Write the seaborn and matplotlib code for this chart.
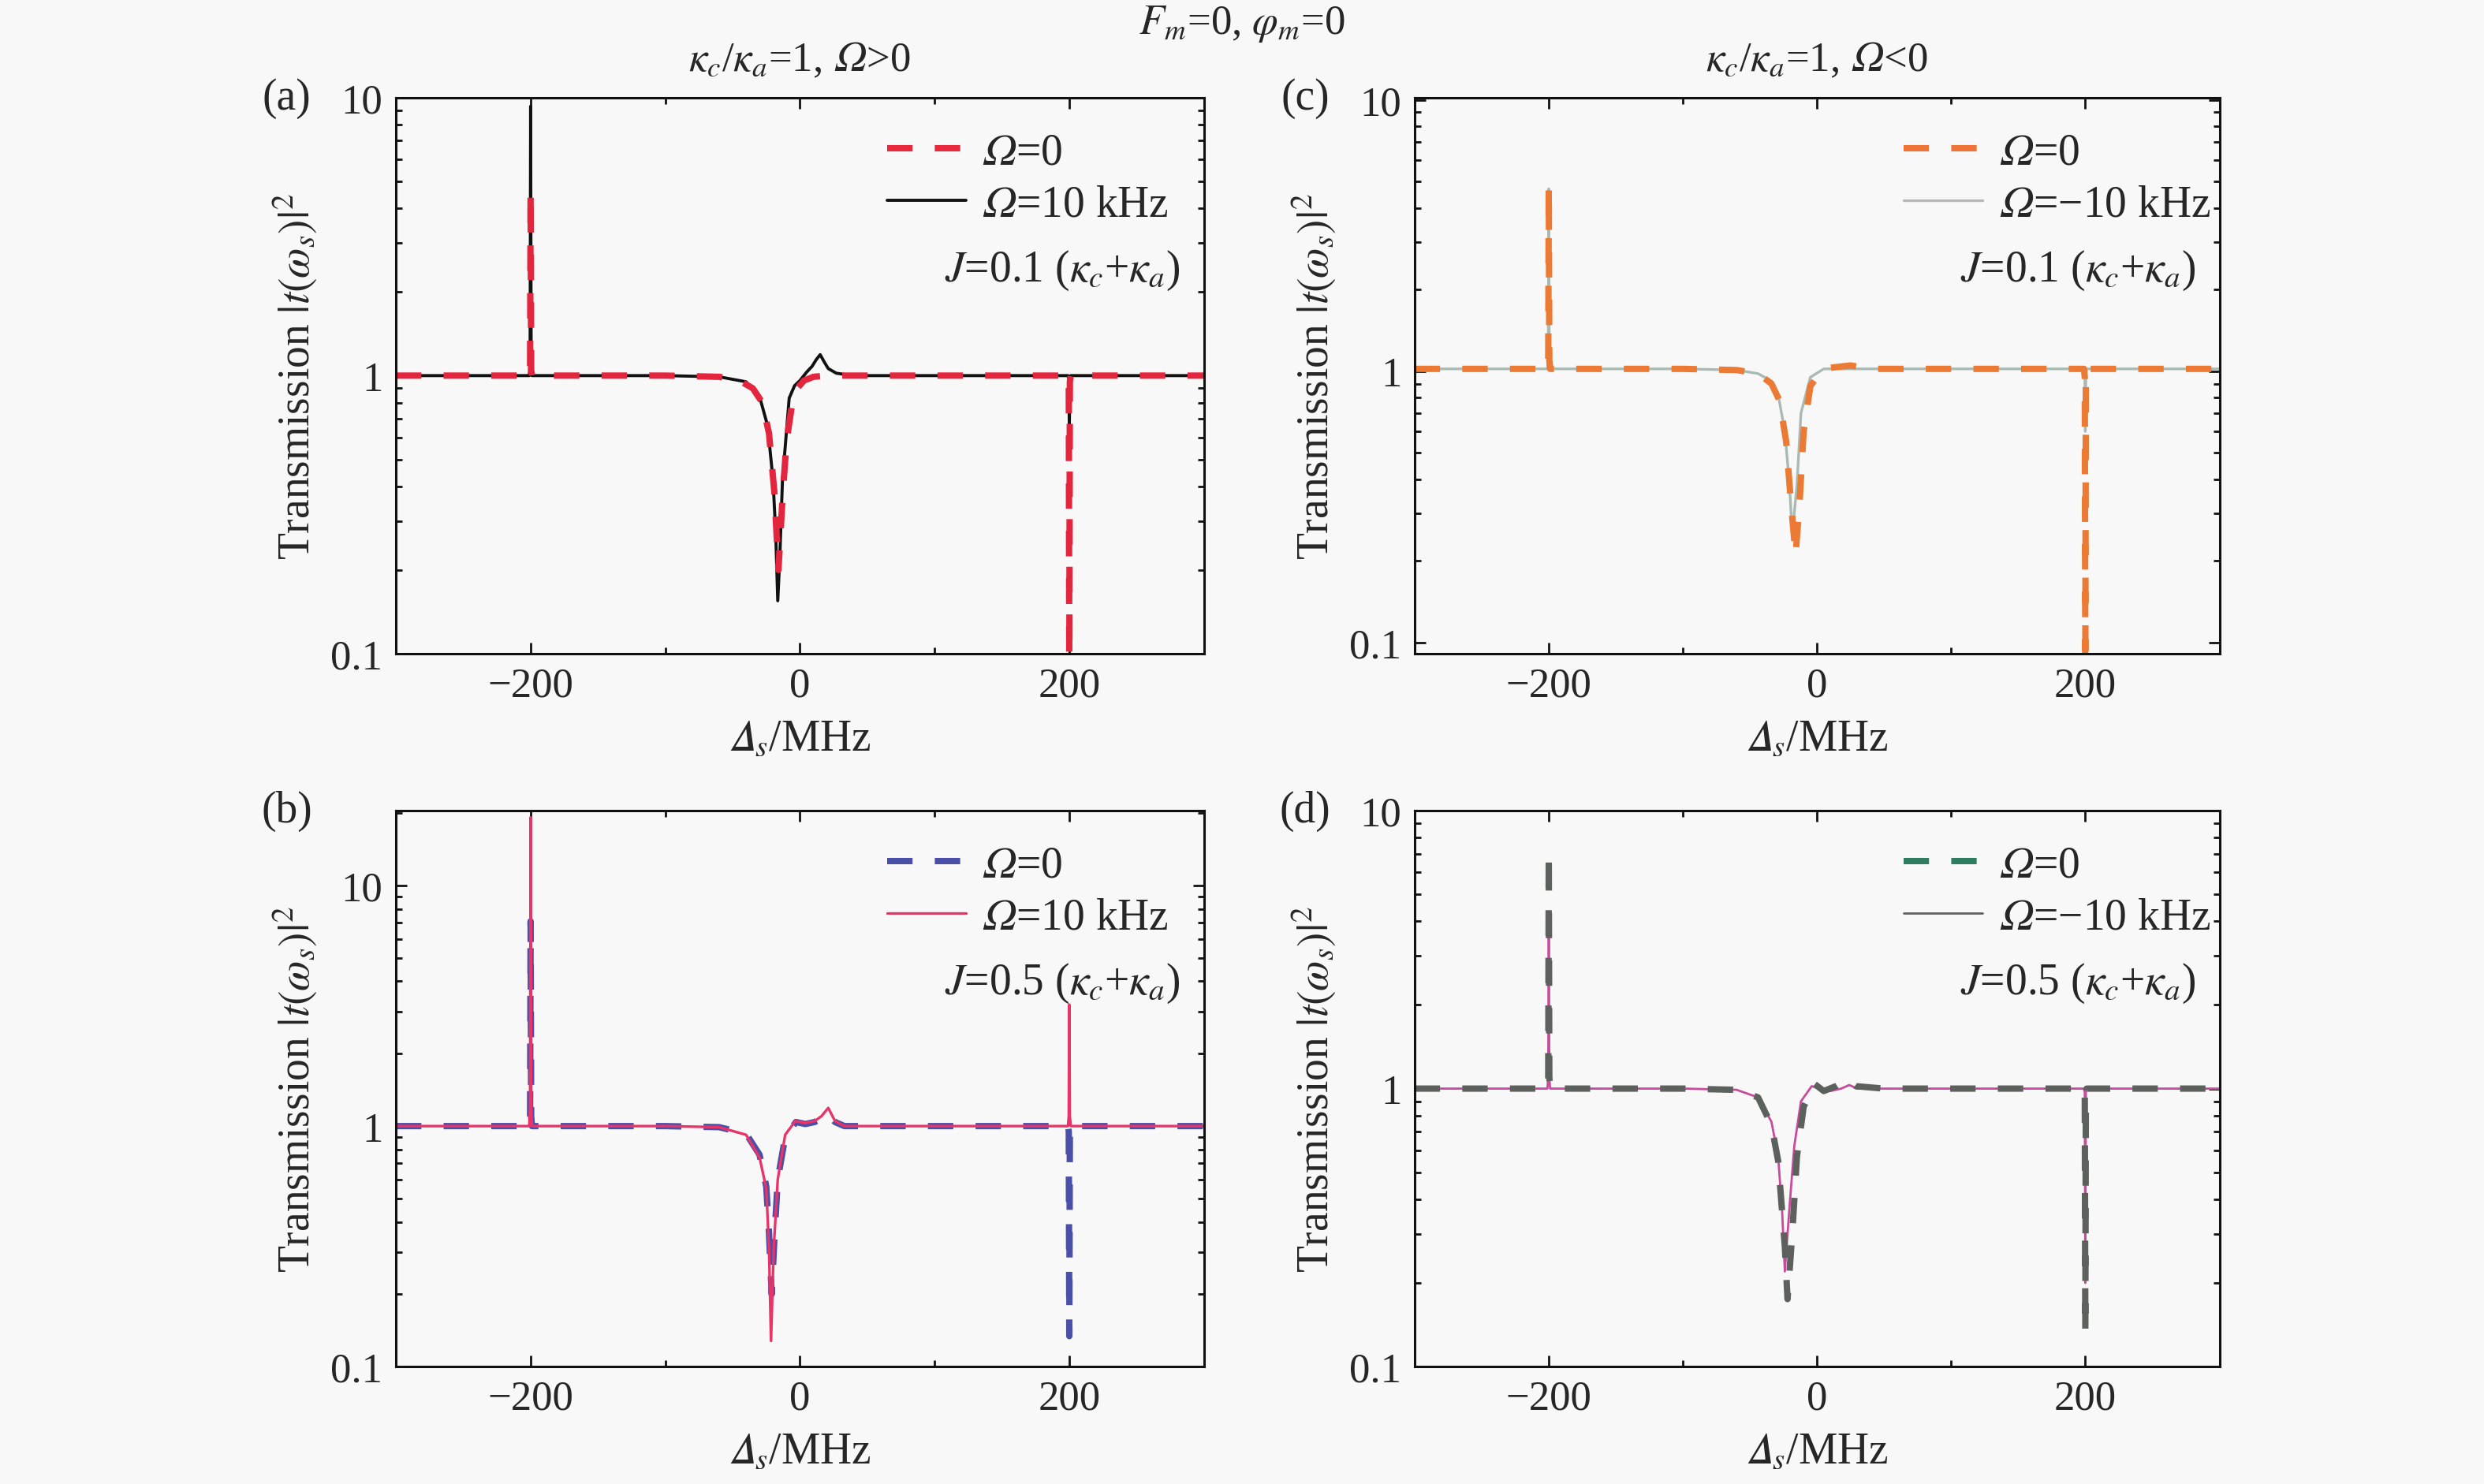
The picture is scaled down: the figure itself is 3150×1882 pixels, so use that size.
import numpy as np
import pandas as pd
import matplotlib
matplotlib.use("Agg")
import matplotlib.pyplot as plt
from matplotlib.lines import Line2D
from matplotlib.ticker import LogLocator, NullFormatter, MultipleLocator
import seaborn as sns

# ---- data (detuning in MHz, transmission) ----
# (a) J=0.1, Omega=0 (dashed) and Omega=10 kHz (solid)
a_x0 = [-300, -201, -200.4, -200, -199.6, -199, -100, -60, -45, -35, -28, -23, -19, -16, -13, -10, -6, -2, 3, 10, 20, 40, 100, 199, 199.6, 200, 200.4, 201, 300]
a_y0 = [1, 1, 1.05, 4.6, 1.05, 1, 1, 0.99, 0.96, 0.9, 0.8, 0.62, 0.38, 0.2, 0.36, 0.58, 0.78, 0.9, 0.96, 0.99, 1, 1, 1, 1, 0.95, 0.08, 0.95, 1, 1]
a_x1 = [-300, -201, -200.4, -200, -199.6, -199, -100, -60, -40, -30, -24, -20, -18, -16.5, -15, -13, -8, -4, 0, 5, 9, 12, 15, 18, 21, 27, 33, 50, 100, 199, 199.6, 200, 200.4, 201, 300]
a_y1 = [1, 1, 1.1, 9.3, 1.1, 1, 1, 0.99, 0.95, 0.84, 0.66, 0.42, 0.27, 0.155, 0.22, 0.42, 0.83, 0.92, 0.96, 1.03, 1.08, 1.14, 1.19, 1.12, 1.06, 1.02, 1.01, 1, 1, 1, 0.97, 0.65, 0.97, 1, 1]

# (b) J=0.5, Omega=0 (dashed) and Omega=10 kHz (solid)
b_x0 = [-300, -201, -200.4, -200, -199.6, -199, -100, -60, -40, -30, -25, -23, -21, -19, -16.5, -11, -3, 4, 11, 21, 26, 33, 100, 199, 199.6, 200, 200.4, 201, 300]
b_y0 = [1, 1, 1.1, 7.1, 1.1, 1, 1, 0.99, 0.93, 0.76, 0.56, 0.36, 0.2, 0.34, 0.6, 0.9, 1.04, 1.02, 1.04, 1.12, 1.04, 1.0, 1, 1, 0.95, 0.134, 0.95, 1, 1]
b_x1 = [-300, -201, -200.4, -200, -199.6, -199, -100, -60, -40, -30, -25, -23, -21.5, -19.5, -16.5, -11, -3.4, 4, 11, 16, 21, 26, 33, 100, 199, 199.6, 200, 200.4, 201, 300]
b_y1 = [1, 1, 1.2, 19.2, 1.2, 1, 1, 0.99, 0.92, 0.74, 0.55, 0.31, 0.128, 0.31, 0.6, 0.92, 1.05, 1.03, 1.05, 1.1, 1.19, 1.05, 1.0, 1, 1, 1.1, 3.2, 1.1, 1, 1]

# (c) J=0.1, Omega=0 (dashed) and Omega=-10 kHz (solid)
c_x0 = [-300, -201, -200.4, -200, -199.6, -199, -100, -60, -44, -34, -28, -23, -19.5, -16, -13, -10, -5, 2, 10, 25, 40, 100, 199, 199.6, 200, 200.4, 201, 300]
c_y0 = [1.02, 1.02, 1.1, 4.8, 1.1, 1.02, 1.02, 1.01, 0.98, 0.9, 0.78, 0.55, 0.33, 0.21, 0.33, 0.6, 0.88, 0.99, 1.03, 1.05, 1.02, 1.02, 1.02, 0.95, 0.08, 0.95, 1.02, 1.02]
c_x1 = [-300, -201, -200.4, -200, -199.6, -199, -100, -60, -44, -34, -29, -24, -20.5, -18.5, -15, -12, -5, 5, 20, 100, 199, 199.6, 200, 200.4, 201, 300]
c_y1 = [1.02, 1.02, 1.1, 4.7, 1.1, 1.02, 1.02, 1.01, 0.98, 0.92, 0.82, 0.6, 0.38, 0.25, 0.38, 0.7, 0.95, 1.02, 1.02, 1.02, 1.02, 0.97, 0.6, 0.97, 1.02, 1.02]

# (d) J=0.5, Omega=0 (dashed) and Omega=-10 kHz (solid)
d_x0 = [-300, -201, -200.4, -200, -199.6, -199, -100, -60, -44, -34, -29, -24, -22, -18.5, -15, -10, -2, 5, 14, 22, 29, 50, 100, 199, 199.6, 200, 200.4, 201, 300]
d_y0 = [1, 1, 1.1, 7.05, 1.1, 1, 1, 0.99, 0.93, 0.74, 0.55, 0.27, 0.175, 0.3, 0.57, 0.86, 1.04, 0.98, 1.02, 1.08, 1.02, 1, 1, 1, 0.95, 0.133, 0.95, 1, 1]
d_x1 = [-300, -201, -200.4, -200, -199.6, -199, -100, -60, -44, -34, -29, -26, -24, -21, -17, -12, -4, 3, 10, 18, 24, 30, 100, 199, 199.6, 200, 200.4, 201, 300]
d_y1 = [1, 1, 1.1, 3.5, 1.1, 1, 1, 0.99, 0.93, 0.76, 0.57, 0.36, 0.22, 0.35, 0.62, 0.9, 1.02, 1.0, 0.98, 1.0, 1.03, 1.0, 1, 1, 0.97, 0.2, 0.97, 1, 1]

# italic capital Omega / Delta (math alphanumeric) rendered through stix mathtext
OM = "$\U0001D6FA$"
DL = "$\U0001D6E5_s$"
j_texts = {"a": "$J$=0.1 ($\\kappa_c$+$\\kappa_a$)", "b": "$J$=0.5 ($\\kappa_c$+$\\kappa_a$)",
           "c": "$J$=0.1 ($\\kappa_c$+$\\kappa_a$)", "d": "$J$=0.5 ($\\kappa_c$+$\\kappa_a$)"}
lab_zero = OM + "=0"
lab_pos = OM + "=10 kHz"
lab_neg = OM + "=\u221210 kHz"

sns.set_style("ticks")
bg = "#f8f8f8"
plt.rcParams["font.family"] = ["Liberation Serif", "STIXGeneral", "DejaVu Serif"]
plt.rcParams["mathtext.fontset"] = "stix"
plt.rcParams["axes.facecolor"] = bg
plt.rcParams["figure.facecolor"] = bg

fig = plt.figure(figsize=(15.75, 9.415), dpi=200)

# axes rectangles [left, bottom, width, height] in figure fraction
rects = {
    "a": [0.1594, 0.5592, 0.3253, 0.3746],
    "b": [0.1594, 0.0790, 0.3253, 0.3746],
    "c": [0.5695, 0.5592, 0.3240, 0.3746],
    "d": [0.5695, 0.0790, 0.3240, 0.3746],
}

panels = [
    # key, dashed x/y, solid x/y, solid label, plot colours, legend colours, ylim, solid on top, solid lw
    ("a", a_x0, a_y0, a_x1, a_y1, lab_pos, ("#e3263e", "#111111"), ("#e8283c", "#111111"), (0.1, 10), False, 1.4),
    ("b", b_x0, b_y0, b_x1, b_y1, lab_pos, ("#4a4fa8", "#e83468"), ("#4a4fa8", "#e83468"), (0.1, 20.5), True, 1.2),
    ("c", c_x0, c_y0, c_x1, c_y1, lab_neg, ("#ea7a34", "#a9bab4"), ("#ee7438", "#b8b8b8"), (0.091, 10.2), False, 1.2),
    ("d", d_x0, d_y0, d_x1, d_y1, lab_neg, ("#5c615e", "#c84a9c"), ("#2e7d60", "#606060"), (0.1, 10), False, 1.0),
]

fs = 19
dash_pat = (4.0, 3.5)

for key, x0, y0, x1, y1, lab1, cols, lcols, ylim, solid_top, lw1 in panels:
    ax = fig.add_axes(rects[key])
    df = pd.DataFrame({
        "detuning": x0 + x1,
        "T": y0 + y1,
        "curve": [lab_zero] * len(x0) + [lab1] * len(x1),
    })
    order = [lab_zero, lab1] if solid_top else [lab1, lab_zero]
    sns.lineplot(data=df, x="detuning", y="T", hue="curve", style="curve", size="curve",
                 hue_order=order, style_order=order, size_order=order,
                 palette={lab_zero: cols[0], lab1: cols[1]},
                 dashes={lab_zero: dash_pat, lab1: ""},
                 sizes={lab_zero: 2.9, lab1: lw1},
                 estimator=None, sort=False, legend=False, ax=ax)
    for ln in ax.get_lines():
        ln.set_solid_capstyle("butt")
        ln.set_dash_capstyle("butt")

    ax.set_yscale("log")
    ax.set_xlim(-300, 300)
    ax.set_ylim(*ylim)
    ax.set_xticks([-200, 0, 200])
    ax.set_xticklabels(["\u2212200", "0", "200"])
    ax.xaxis.set_minor_locator(MultipleLocator(100))
    ax.set_yticks([0.1, 1, 10])
    ax.set_yticklabels(["0.1", "1", "10"])
    ax.yaxis.set_minor_locator(LogLocator(base=10, subs=np.arange(2, 10)))
    ax.yaxis.set_minor_formatter(NullFormatter())
    ax.tick_params(which="both", direction="in", top=True, right=True, labelsize=fs,
                   width=1.0, color="#111111", pad=6)
    ax.tick_params(which="major", length=5)
    ax.tick_params(which="minor", length=3)
    for sp in ax.spines.values():
        sp.set_linewidth(1.1)
        sp.set_color("#111111")

    ax.set_xlabel(DL + "/MHz", fontsize=fs + 1)
    ax.xaxis.set_label_coords(0.5, -0.115)
    ax.set_ylabel("Transmission $|t(\\omega_s)|^2$", fontsize=fs + 1)
    ax.yaxis.set_label_coords(-0.095, 0.5)

    handles = [
        Line2D([], [], color=lcols[0], lw=2.9, dashes=dash_pat, dash_capstyle="butt"),
        Line2D([], [], color=lcols[1], lw=lw1),
    ]
    ax.legend(handles, [lab_zero, lab1], loc="upper left", bbox_to_anchor=(0.575, 0.985),
              frameon=False, fontsize=fs + 1, handlelength=1.8, handletextpad=0.35,
              labelspacing=0.25, borderaxespad=0.2)
    ax.text(0.97, 0.69, j_texts[key], transform=ax.transAxes,
            ha="right", va="center", fontsize=fs + 1)

    # panel tag to the left of the top tick label
    pos = rects[key]
    fig.text(pos[0] - 0.044, pos[1] + pos[3], "(" + key + ")", ha="center", va="center", fontsize=fs + 1)

# column headings and global title
fig.text(0.5, 0.984, "$F_m$=0, $\\varphi_m$=0", ha="center", va="center", fontsize=fs)
fig.text(rects["a"][0] + rects["a"][2] / 2, 0.959, "$\\kappa_c$/$\\kappa_a$=1, " + OM + ">0",
         ha="center", va="center", fontsize=fs)
fig.text(rects["c"][0] + rects["c"][2] / 2, 0.959, "$\\kappa_c$/$\\kappa_a$=1, " + OM + "<0",
         ha="center", va="center", fontsize=fs)

fig.savefig("out.png", dpi=200, facecolor=bg)
